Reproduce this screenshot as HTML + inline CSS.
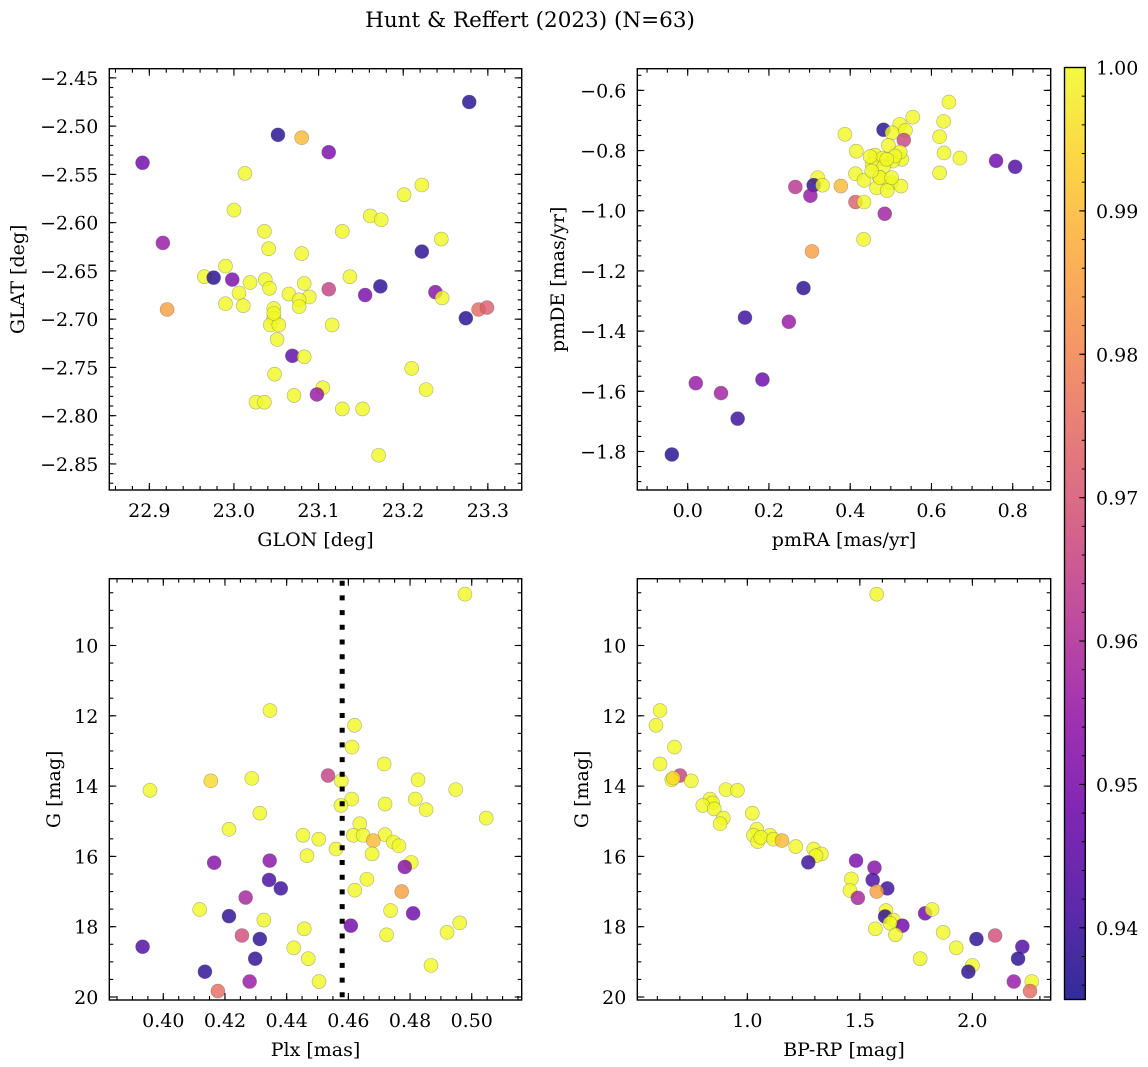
<!DOCTYPE html>
<html><head><meta charset="utf-8"><style>
html,body{margin:0;padding:0;background:#fff;}
svg{display:block;font-family:"DejaVu Serif","Liberation Serif",serif;}
</style></head><body>
<svg id="fig" width="1148" height="1067" viewBox="0 0 1148 1067" xmlns="http://www.w3.org/2000/svg">
<defs>
<linearGradient id="plasma" x1="0" y1="1" x2="0" y2="0">
<stop offset="0" stop-color="#0d0887"/><stop offset="0.1" stop-color="#41049d"/><stop offset="0.2" stop-color="#6a00a8"/><stop offset="0.3" stop-color="#8f0da4"/><stop offset="0.4" stop-color="#b12a90"/><stop offset="0.5" stop-color="#cc4778"/><stop offset="0.6" stop-color="#e16462"/><stop offset="0.7" stop-color="#f2844b"/><stop offset="0.8" stop-color="#fca636"/><stop offset="0.9" stop-color="#fcce25"/><stop offset="1" stop-color="#f0f921"/>
</linearGradient>
</defs>
<text x="530" y="27" font-size="21.5" text-anchor="middle">Hunt &amp; Reffert (2023) (N=63)</text>
</svg>
<script>
// ---- Panel 1: GLON / GLAT ----
const glon = [23.278,23.052,23.080,23.112,22.892,23.013,23.222,23.201,23.000,23.161,23.174,23.036,23.128,23.245,22.916,23.041,23.080,23.222,22.990,22.965,22.976,22.998,23.019,23.037,23.042,23.083,23.137,23.173,23.112,23.155,23.238,23.246,23.006,23.065,23.089,23.077,23.077,22.990,23.011,22.921,23.047,23.047,23.274,23.289,23.299,23.043,23.053,23.116,23.051,23.069,23.083,23.210,23.048,23.227,23.105,23.098,23.071,23.026,23.036,23.128,23.152,23.171,23.047];
const glat = [-2.475,-2.509,-2.512,-2.527,-2.538,-2.549,-2.561,-2.571,-2.587,-2.593,-2.597,-2.609,-2.609,-2.617,-2.621,-2.627,-2.632,-2.630,-2.645,-2.656,-2.657,-2.659,-2.662,-2.659,-2.668,-2.663,-2.656,-2.666,-2.669,-2.675,-2.672,-2.678,-2.673,-2.674,-2.677,-2.680,-2.687,-2.684,-2.686,-2.690,-2.689,-2.699,-2.699,-2.690,-2.688,-2.706,-2.706,-2.706,-2.721,-2.738,-2.739,-2.751,-2.757,-2.773,-2.771,-2.778,-2.779,-2.786,-2.786,-2.793,-2.793,-2.841,-2.694];
const prob1 = [0.937,0.937,0.99,0.95,0.948,1,1,1,1,1,1,1,1,1,0.955,1,1,0.938,1,1,0.937,0.95,1,1,1,1,1,0.938,0.965,0.95,0.952,1,1,1,1,1,1,1,1,0.985,1,1,0.937,0.975,0.972,1,1,1,1,0.945,1,1,1,1,1,0.955,1,1,1,1,1,1,1];
// ---- Panel 2: pmRA / pmDE ----
const pmra = [0.643,0.554,0.630,0.522,0.482,0.536,0.503,0.387,0.532,0.620,0.494,0.415,0.631,0.461,0.479,0.527,0.670,0.759,0.806,0.454,0.505,0.482,0.413,0.620,0.434,0.472,0.500,0.525,0.465,0.491,0.320,0.310,0.332,0.265,0.377,0.302,0.413,0.434,0.485,0.433,0.306,0.285,0.141,0.249,0.020,0.082,0.184,0.123,-0.039,0.449,0.523,0.473,0.510,0.502,0.453,0.490];
const pmde = [-0.639,-0.689,-0.703,-0.713,-0.731,-0.733,-0.741,-0.746,-0.765,-0.754,-0.783,-0.802,-0.808,-0.815,-0.826,-0.829,-0.825,-0.834,-0.854,-0.846,-0.835,-0.854,-0.877,-0.874,-0.899,-0.889,-0.907,-0.918,-0.924,-0.933,-0.890,-0.915,-0.915,-0.921,-0.918,-0.950,-0.971,-0.971,-1.010,-1.095,-1.135,-1.257,-1.355,-1.369,-1.573,-1.606,-1.561,-1.691,-1.810,-0.820,-0.805,-0.890,-0.818,-0.890,-0.868,-0.829];
const prob2 = [1,1,1,1,0.937,1,1,1,0.966,1,1,1,1,1,1,1,1,0.948,0.943,1,1,1,1,1,1,1,1,1,1,1,1,0.938,1,0.962,0.99,0.955,0.972,1,0.957,1,0.985,0.938,0.94,0.955,0.955,0.957,0.947,0.94,0.937,1,1,1,1,1,1,1];
// ---- Panel 3: Plx / G ----
const plx = [0.4978,0.4346,0.4620,0.4612,0.4716,0.4534,0.4577,0.4154,0.4287,0.4826,0.4948,0.3957,0.4611,0.4817,0.4576,0.4719,0.4852,0.4313,0.5047,0.4637,0.4213,0.4453,0.4616,0.4648,0.4719,0.4504,0.4681,0.4746,0.4764,0.4560,0.4466,0.4677,0.4165,0.4345,0.4804,0.4783,0.4343,0.4381,0.4660,0.4267,0.4621,0.4773,0.4118,0.4737,0.4810,0.4213,0.4326,0.4608,0.4961,0.4457,0.4920,0.4724,0.4255,0.4313,0.3933,0.4423,0.4298,0.4470,0.4868,0.4135,0.4280,0.4505,0.4177];
const gmag3 = [8.54,11.85,12.27,12.89,13.37,13.70,13.85,13.85,13.78,13.82,14.10,14.12,14.37,14.37,14.55,14.51,14.67,14.77,14.91,15.07,15.23,15.40,15.40,15.40,15.38,15.51,15.55,15.59,15.70,15.79,15.98,15.93,16.18,16.12,16.17,16.30,16.67,16.91,16.65,17.17,16.96,17.00,17.51,17.54,17.62,17.70,17.81,17.97,17.89,18.06,18.16,18.23,18.25,18.35,18.57,18.60,18.91,18.91,19.10,19.28,19.56,19.56,19.83];
const prob3 = [1,1,1,1,1,0.965,1,0.995,1,1,1,1,1,1,1,1,1,1,1,1,1,1,1,1,1,1,0.99,1,1,1,1,1,0.952,0.953,1,0.952,0.942,0.94,1,0.958,1,0.985,1,1,0.948,0.938,1,0.948,1,1,1,1,0.968,0.938,0.943,1,0.938,1,1,0.938,0.955,1,0.975];
const plxLine = [0.458];
// ---- Panel 4: BP-RP / G ----
const bprp = [1.575,0.612,0.594,0.676,0.612,0.701,0.664,0.671,0.751,0.905,0.956,0.834,0.846,0.802,0.853,1.022,0.893,0.879,1.042,1.027,1.101,1.046,1.060,1.116,1.154,1.215,1.295,1.329,1.305,1.271,1.483,1.565,1.462,1.557,1.622,1.456,1.575,1.491,1.790,1.821,1.616,1.612,1.649,1.689,1.634,1.569,1.870,1.658,2.101,2.018,2.222,1.928,2.203,1.768,2.000,1.982,2.184,2.264,2.256];
const gmag4 = [8.54,11.85,12.27,12.89,13.37,13.70,13.82,13.77,13.85,14.10,14.12,14.37,14.48,14.55,14.65,14.77,14.91,15.07,15.23,15.40,15.40,15.58,15.46,15.51,15.55,15.72,15.79,15.93,15.98,16.17,16.12,16.32,16.64,16.67,16.91,16.97,17.00,17.18,17.62,17.51,17.54,17.71,17.81,17.97,17.90,18.06,18.16,18.23,18.25,18.35,18.57,18.60,18.91,18.91,19.10,19.28,19.56,19.56,19.83];
const prob4 = [1,1,1,1,1,0.965,1,0.995,1,1,1,1,1,1,1,1,1,1,1,1,1,1,1,1,0.99,1,1,1,1,0.94,0.95,0.952,1,0.942,0.94,1,0.985,0.958,0.948,1,1,0.938,1,0.948,1,1,1,1,0.968,0.938,0.943,1,0.938,1,1,0.938,0.955,1,0.975];
// ---- Ticks ----
const p1xTicks = ["22.9","23.0","23.1","23.2","23.3"];
const p1yTicks = ["-2.45","-2.50","-2.55","-2.60","-2.65","-2.70","-2.75","-2.80","-2.85"];
const p2xTicks = ["0.0","0.2","0.4","0.6","0.8"];
const p2yTicks = ["-0.6","-0.8","-1.0","-1.2","-1.4","-1.6","-1.8"];
const p3xTicks = ["0.40","0.42","0.44","0.46","0.48","0.50"];
const gTicks = ["10","12","14","16","18","20"];
const p4xTicks = ["1.0","1.5","2.0"];
const cbTicks = ["0.94","0.95","0.96","0.97","0.98","0.99","1.00"];
const VMIN = 0.935, VMAX = 1.0;

const NS = "http://www.w3.org/2000/svg";
const svg = document.getElementById('fig');
const FS = 19;
function mk(tag, attrs, parent){
  const e = document.createElementNS(NS, tag);
  for (const k in attrs) e.setAttribute(k, attrs[k]);
  (parent||svg).appendChild(e);
  return e;
}
const stops = [[13,8,135],[65,4,157],[106,0,168],[143,13,164],[177,42,144],[204,71,120],[225,100,98],[242,132,75],[252,166,54],[252,206,37],[240,249,33]];
function plasma(p){
  let t = (p - VMIN)/(VMAX - VMIN); t = Math.max(0, Math.min(1, t));
  const f = t*10, i = Math.min(9, Math.floor(f)), r = f - i;
  const a = stops[i], b = stops[i+1];
  return 'rgb(' + a.map((v,k)=>Math.round(v+(b[k]-v)*r)).join(',') + ')';
}
function lin(d0,d1,r0,r1){ return v => r0 + (v-d0)/(d1-d0)*(r1-r0); }
function fmt(s){ return s.replace('-', '\u2212'); }

function panel(cfg){
  const g = mk('g', {});
  
  
  const {L,R,T,B} = cfg;
  const sx = lin(cfg.xd[0], cfg.xd[1], L, R);
  const sy = lin(cfg.yd[0], cfg.yd[1], B, T);
  const pts = mk('g', {}, g);
  
  
  cfg.xs.forEach((x,i)=>{
    if (cfg.ys[i] === undefined) return;
    const c = mk('circle', {cx: sx(x), cy: sy(cfg.ys[i]), r: 7, fill: plasma(cfg.ps[i]), 'fill-opacity': 0.8, stroke: '#555', 'stroke-opacity': 0.45, 'stroke-width': 0.6}, pts);
    
    
  });
  if (cfg.vline) cfg.vline.forEach(v=>{
    const l = mk('line', {x1: sx(v), x2: sx(v), y1: T+2, y2: B, stroke: '#000', 'stroke-width': 5, 'stroke-dasharray': '5 9.7'}, g);
    
    
  });
  const tk = mk('g', {stroke: '#000', 'stroke-width': 1.1}, g);
  function xt(v, len){ const X = sx(v); if (X < L-0.5 || X > R+0.5) return;
    mk('line', {x1: X, x2: X, y1: B, y2: B-len}, tk); mk('line', {x1: X, x2: X, y1: T, y2: T+len}, tk); }
  function yt(v, len){ const Y = sy(v); if (Y < T-0.5 || Y > B+0.5) return;
    mk('line', {x1: L, x2: L+len, y1: Y, y2: Y}, tk); mk('line', {x1: R, x2: R-len, y1: Y, y2: Y}, tk); }
  const xlo = Math.min(cfg.xd[0], cfg.xd[1]), xhi = Math.max(cfg.xd[0], cfg.xd[1]);
  for (let k = Math.ceil(xlo/cfg.xminor); k*cfg.xminor <= xhi; k++) xt(k*cfg.xminor, 4);
  const ylo = Math.min(cfg.yd[0], cfg.yd[1]), yhi = Math.max(cfg.yd[0], cfg.yd[1]);
  for (let k = Math.ceil(ylo/cfg.yminor); k*cfg.yminor <= yhi; k++) yt(k*cfg.yminor, 4);
  cfg.xt.forEach(s=>{ xt(parseFloat(s), 7);
    const t = mk('text', {x: sx(parseFloat(s)), y: B+27, 'font-size': FS, 'text-anchor': 'middle'}, g);
    t.textContent = fmt(s);
    
    
  });
  cfg.yt.forEach(s=>{ yt(parseFloat(s), 7);
    const t = mk('text', {x: L-11, y: sy(parseFloat(s))+7, 'font-size': FS, 'text-anchor': 'end'}, g);
    t.textContent = fmt(s);
    
    
  });
  const fr = mk('rect', {x: L, y: T, width: R-L, height: B-T, fill: 'none', stroke: '#000', 'stroke-width': 1.4}, g);
  
  
  const xl = mk('text', {x: (L+R)/2, y: B+56, 'font-size': FS, 'text-anchor': 'middle'}, g);
  xl.textContent = cfg.xlabel;
  
  
  const yl = mk('text', {x: 0, y: 0, 'font-size': FS, 'text-anchor': 'middle', transform: 'translate(' + cfg.ylx + ',' + (T+B)/2 + ') rotate(-90)'}, g);
  yl.textContent = cfg.ylabel;
  
  
}

panel({name:'glon-glat-panel', L:109.3, R:521.7, T:68.7, B:490, xd:[22.8527,23.340], yd:[-2.877,-2.4405], xs:glon, ys:glat, ps:prob1, xt:p1xTicks, yt:p1yTicks, xminor:0.02, yminor:0.01, xlabel:'GLON [deg]', ylabel:'GLAT [deg]', ylx:24});
panel({name:'proper-motion-panel', L:637.3, R:1050.7, T:68.7, B:490, xd:[-0.124,0.8935], yd:[-1.928,-0.528], xs:pmra, ys:pmde, ps:prob2, xt:p2xTicks, yt:p2yTicks, xminor:0.05, yminor:0.05, xlabel:'pmRA [mas/yr]', ylabel:'pmDE [mas/yr]', ylx:564});
panel({name:'parallax-magnitude-panel', L:109.3, R:521.7, T:578.7, B:1000, xd:[0.3825,0.5162], yd:[20.085,8.10], xs:plx, ys:gmag3, ps:prob3, xt:p3xTicks, yt:gTicks, xminor:0.005, yminor:0.5, xlabel:'Plx [mas]', ylabel:'G [mag]', ylx:60, vline:plxLine});
panel({name:'color-magnitude-panel', L:637.3, R:1050.7, T:578.7, B:1000, xd:[0.511,2.348], yd:[20.085,8.10], xs:bprp, ys:gmag4, ps:prob4, xt:p4xTicks, yt:gTicks, xminor:0.1, yminor:0.5, xlabel:'BP-RP [mag]', ylabel:'G [mag]', ylx:588});

(function(){
  const g = mk('g', {});
  
  
  const L = 1064.5, R = 1085.3, T = 67.5, B = 999.5;
  const sy = lin(VMIN, VMAX, B, T);
  mk('rect', {x: L, y: T, width: R-L, height: B-T, fill: 'url(#plasma)', 'fill-opacity': 0.85}, g);
  for (let k = Math.ceil(VMIN/0.002 - 1e-6); k*0.002 <= VMAX + 1e-9; k++){
    const Y = sy(k*0.002);
    mk('line', {x1: R, x2: R-3.5, y1: Y, y2: Y, stroke: '#000', 'stroke-width': 1}, g);
  }
  cbTicks.forEach(s=>{
    const Y = sy(parseFloat(s));
    mk('line', {x1: R, x2: R-6, y1: Y, y2: Y, stroke: '#000', 'stroke-width': 1.1}, g);
    const t = mk('text', {x: 1096, y: Y+7, 'font-size': FS}, g);
    t.textContent = s;
    
    
  });
  mk('rect', {x: L, y: T, width: R-L, height: B-T, fill: 'none', stroke: '#000', 'stroke-width': 1.4}, g);
})();
</script>
</body></html>
